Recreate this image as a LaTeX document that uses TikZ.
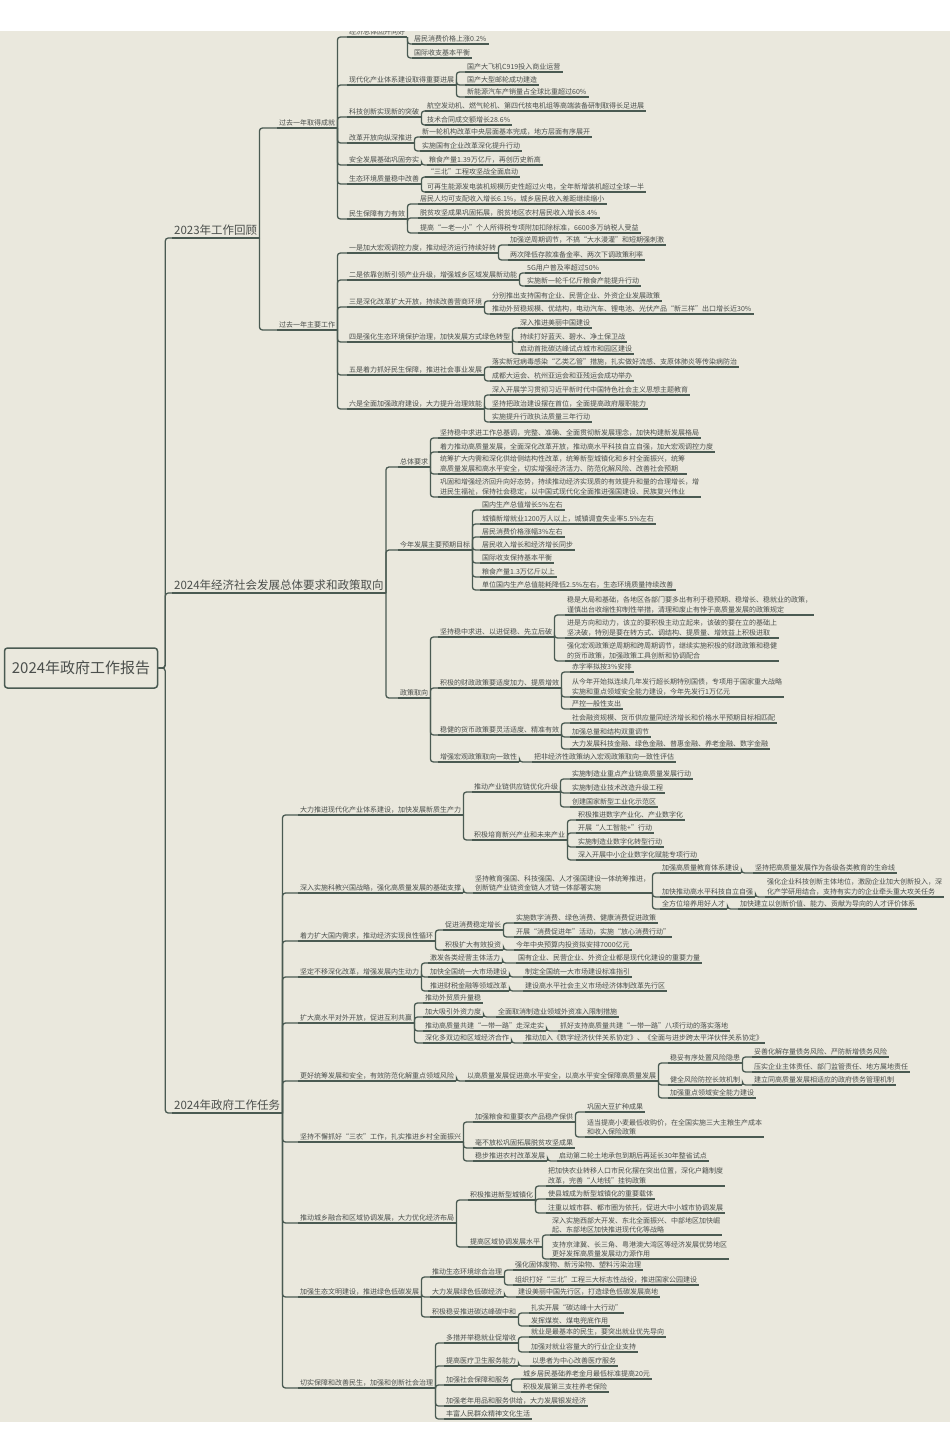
\documentclass[tikz,border=0pt]{standalone}
\usepackage{fontspec}
\setmainfont{Noto Sans CJK SC}
\usetikzlibrary{positioning}
\definecolor{paper}{HTML}{EAE8DD}
\definecolor{ink}{HTML}{4B4F4C}
\definecolor{wire}{HTML}{4A5A52}

\begin{document}
\begin{tikzpicture}[x=1pt,y=-1pt,
		every node/.style={text=ink},
		ul/.style={draw=wire,line width=1.3pt},
		lf/.style={% underlined topic text
			anchor=south west,inner xsep=2pt,inner ysep=1.6pt,align=left,
			font=\fontsize{7}{9.6}\selectfont,
			append after command={(\tikzlastnode.south west) edge[ul] (\tikzlastnode.south east)}},
		top/.style={lf,font=\fontsize{11.5}{13}\selectfont,inner ysep=2.5pt},
		root/.style={draw=wire,line width=1.5pt,rounded corners=3pt,fill=paper,
			minimum width=153pt,minimum height=40pt,font=\fontsize{15}{17}\selectfont},
		cn/.style={draw=wire,line width=1.3pt,rounded corners=3pt}
	]
	\useasboundingbox (0,0) rectangle (950,1440);
	\fill[paper] (0,31) rectangle (950,1422);
	\begin{scope}
	\clip (0,31) rectangle (950,1422);
	\node[root] (root) at (81,668) {2024年政府工作报告};
	\node[top] (r23) at (172,238) {2023年工作回顾};
	\node[top] (r24) at (172,593) {2024年经济社会发展总体要求和政策取向};
	\node[top] (rt) at (172,1113) {2024年政府工作任务};
	\foreach \c in {r23,r24,rt}
		\draw[cn] (root.east) -- ++(7,0) |- (\c.south west);

	% past year results
	\node[lf] (a) at (277,128) {过去一年取得成就};
	\node[lf] (a0) at (347,37) {经济总体回升向好};
	\node[lf] (a01) at (412,44) {居民消费价格上涨0.2\%};
	\node[lf] (a02) at (412,58) {国际收支基本平衡};
	\node[lf] (a1) at (347,85) {现代化产业体系建设取得重要进展};
	\node[lf] (a11) at (465,72) {国产大飞机C919投入商业运营};
	\node[lf] (a12) at (465,85) {国产大型邮轮成功建造};
	\node[lf] (a13) at (465,97) {新能源汽车产销量占全球比重超过60\%};
	\node[lf] (a2) at (347,117) {科技创新实现新的突破};
	\node[lf] (a21) at (425,111) {航空发动机、燃气轮机、第四代核电机组等高端装备研制取得长足进展};
	\node[lf] (a22) at (425,125) {技术合同成交额增长28.6\%};
	\node[lf] (a3) at (347,143) {改革开放向纵深推进};
	\node[lf] (a31) at (420,137) {新一轮机构改革中央层面基本完成，地方层面有序展开};
	\node[lf] (a32) at (420,151) {实施国有企业改革深化提升行动};
	\node[lf] (a4) at (347,165) {安全发展基础巩固夯实};
	\node[lf] (a41) at (427,165) {粮食产量1.39万亿斤，再创历史新高};
	\node[lf] (a5) at (347,184) {生态环境质量稳中改善};
	\node[lf] (a51) at (425,177) {“三北”工程攻坚战全面启动};
	\node[lf] (a52) at (425,192) {可再生能源发电装机规模历史性超过火电，全年新增装机超过全球一半};
	\node[lf] (a6) at (347,219) {民生保障有力有效};
	\node[lf] (a61) at (418,204) {居民人均可支配收入增长6.1\%，城乡居民收入差距继续缩小};
	\node[lf] (a62) at (418,218) {脱贫攻坚成果巩固拓展，脱贫地区农村居民收入增长8.4\%};
	\node[lf] (a63) at (418,233) {提高“一老一小”个人所得税专项附加扣除标准，6600多万纳税人受益};

	% past year work
	\node[lf] (b) at (277,330) {过去一年主要工作};
	\node[lf] (b1) at (347,253) {一是加大宏观调控力度，推动经济运行持续好转};
	\node[lf] (b11) at (508,245) {加强逆周期调节，不搞“大水漫灌”和短期强刺激};
	\node[lf] (b12) at (508,260) {两次降低存款准备金率、两次下调政策利率};
	\node[lf] (b2) at (347,280) {二是依靠创新引领产业升级，增强城乡区域发展新动能};
	\node[lf] (b21) at (525,273) {5G用户普及率超过50\%};
	\node[lf] (b22) at (525,286) {实施新一轮千亿斤粮食产能提升行动};
	\node[lf] (b3) at (347,307) {三是深化改革扩大开放，持续改善营商环境};
	\node[lf] (b31) at (490,301) {分别推出支持国有企业、民营企业、外资企业发展政策};
	\node[lf] (b32) at (490,314) {推动外贸稳规模、优结构，电动汽车、锂电池、光伏产品“新三样”出口增长近30\%};
	\node[lf] (b4) at (347,342) {四是强化生态环境保护治理，加快发展方式绿色转型};
	\node[lf] (b41) at (518,328) {深入推进美丽中国建设};
	\node[lf] (b42) at (518,342) {持续打好蓝天、碧水、净土保卫战};
	\node[lf] (b43) at (518,354) {启动首批碳达峰试点城市和园区建设};
	\node[lf] (b5) at (347,375) {五是着力抓好民生保障，推进社会事业发展};
	\node[lf] (b51) at (490,367) {落实新冠病毒感染“乙类乙管”措施，扎实做好流感、支原体肺炎等传染病防治};
	\node[lf] (b52) at (490,381) {成都大运会、杭州亚运会和亚残运会成功举办};
	\node[lf] (b6) at (347,409) {六是全面加强政府建设，大力提升治理效能};
	\node[lf] (b61) at (490,395) {深入开展学习贯彻习近平新时代中国特色社会主义思想主题教育};
	\node[lf] (b62) at (490,409) {坚持把政治建设摆在首位，全面提高政府履职能力};
	\node[lf] (b63) at (490,422) {实施提升行政执法质量三年行动};

	% general requirements
	\node[lf] (c) at (398,467) {总体要求};
	\node[lf] (c1) at (438,438) {坚持稳中求进工作总基调，完整、准确、全面贯彻新发展理念，加快构建新发展格局};
	\node[lf] (c2) at (438,452) {着力推动高质量发展，全面深化改革开放，推动高水平科技自立自强，加大宏观调控力度};
	\node[lf] (c3) at (438,474) {统筹扩大内需和深化供给侧结构性改革，统筹新型城镇化和乡村全面振兴，统筹\\高质量发展和高水平安全，切实增强经济活力、防范化解风险、改善社会预期};
	\node[lf] (c4) at (438,497) {巩固和增强经济回升向好态势，持续推动经济实现质的有效提升和量的合理增长，增\\进民生福祉，保持社会稳定，以中国式现代化全面推进强国建设、民族复兴伟业};
	\node[lf] (d) at (398,550) {今年发展主要预期目标};
	\node[lf] (d1) at (480,510) {国内生产总值增长5\%左右};
	\node[lf] (d2) at (480,524) {城镇新增就业1200万人以上，城镇调查失业率5.5\%左右};
	\node[lf] (d3) at (480,537) {居民消费价格涨幅3\%左右};
	\node[lf] (d4) at (480,550) {居民收入增长和经济增长同步};
	\node[lf] (d5) at (480,563) {国际收支保持基本平衡};
	\node[lf] (d6) at (480,577) {粮食产量1.3万亿斤以上};
	\node[lf] (d7) at (480,590) {单位国内生产总值能耗降低2.5\%左右，生态环境质量持续改善};
	\node[lf] (e) at (398,698) {政策取向};
	\node[lf] (e1) at (438,637) {坚持稳中求进、以进促稳、先立后破};
	\node[lf] (e11) at (565,615) {稳是大局和基础，各地区各部门要多出有利于稳预期、稳增长、稳就业的政策，\\谨慎出台收缩性抑制性举措，清理和废止有悖于高质量发展的政策规定};
	\node[lf] (e12) at (565,638) {进是方向和动力，该立的要积极主动立起来，该破的要在立的基础上\\坚决破，特别是要在转方式、调结构、提质量、增效益上积极进取};
	\node[lf] (e13) at (565,661) {强化宏观政策逆周期和跨周期调节，继续实施积极的财政政策和稳健\\的货币政策，加强政策工具创新和协调配合};
	\node[lf] (e2) at (438,688) {积极的财政政策要适度加力、提质增效};
	\node[lf] (e21) at (570,672) {赤字率拟按3\%安排};
	\node[lf] (e22) at (570,697) {从今年开始拟连续几年发行超长期特别国债，专项用于国家重大战略\\实施和重点领域安全能力建设，今年先发行1万亿元};
	\node[lf] (e23) at (570,709) {严控一般性支出};
	\node[lf] (e3) at (438,735) {稳健的货币政策要灵活适度、精准有效};
	\node[lf] (e31) at (570,723) {社会融资规模、货币供应量同经济增长和价格水平预期目标相匹配};
	\node[lf] (e32) at (570,737) {加强总量和结构双重调节};
	\node[lf] (e33) at (570,749) {大力发展科技金融、绿色金融、普惠金融、养老金融、数字金融};
	\node[lf] (e4) at (438,762) {增强宏观政策取向一致性};
	\node[lf] (e41) at (532,762) {把非经济性政策纳入宏观政策取向一致性评估};

	% tasks
	\node[lf] (f) at (298,815) {大力推进现代化产业体系建设，加快发展新质生产力};
	\node[lf] (f1) at (472,792) {推动产业链供应链优化升级};
	\node[lf] (f11) at (570,779) {实施制造业重点产业链高质量发展行动};
	\node[lf] (f12) at (570,793) {实施制造业技术改造升级工程};
	\node[lf] (f13) at (570,807) {创建国家新型工业化示范区};
	\node[lf] (f2) at (472,840) {积极培育新兴产业和未来产业};
	\node[lf] (f21) at (576,820) {积极推进数字产业化、产业数字化};
	\node[lf] (f22) at (576,833) {开展“人工智能+”行动};
	\node[lf] (f23) at (576,847) {实施制造业数字化转型行动};
	\node[lf] (f24) at (576,860) {深入开展中小企业数字化赋能专项行动};
	\node[lf] (g) at (298,893) {深入实施科教兴国战略，强化高质量发展的基础支撑};
	\node[lf] (g0) at (473,893) {坚持教育强国、科技强国、人才强国建设一体统筹推进，\\创新链产业链资金链人才链一体部署实施};
	\node[lf] (g1) at (660,873) {加强高质量教育体系建设};
	\node[lf] (g11) at (753,873) {坚持把高质量发展作为各级各类教育的生命线};
	\node[lf] (g2) at (660,897) {加快推动高水平科技自立自强};
	\node[lf] (g21) at (765,897) {强化企业科技创新主体地位，激励企业加大创新投入，深\\化产学研用结合，支持有实力的企业牵头重大攻关任务};
	\node[lf] (g3) at (660,909) {全方位培养用好人才};
	\node[lf] (g31) at (738,909) {加快建立以创新价值、能力、贡献为导向的人才评价体系};
	\node[lf] (h) at (298,941) {着力扩大国内需求，推动经济实现良性循环};
	\node[lf] (h1) at (443,930) {促进消费稳定增长};
	\node[lf] (h11) at (514,923) {实施数字消费、绿色消费、健康消费促进政策};
	\node[lf] (h12) at (514,937) {开展“消费促进年”活动，实施“放心消费行动”};
	\node[lf] (h2) at (443,950) {积极扩大有效投资};
	\node[lf] (h21) at (514,950) {今年中央预算内投资拟安排7000亿元};
	\node[lf] (i) at (298,977) {坚定不移深化改革，增强发展内生动力};
	\node[lf] (i1) at (428,963) {激发各类经营主体活力};
	\node[lf] (i11) at (516,963) {国有企业、民营企业、外资企业都是现代化建设的重要力量};
	\node[lf] (i2) at (428,977) {加快全国统一大市场建设};
	\node[lf] (i21) at (523,977) {制定全国统一大市场建设标准指引};
	\node[lf] (i3) at (428,991) {推进财税金融等领域改革};
	\node[lf] (i31) at (523,991) {建设高水平社会主义市场经济体制改革先行区};
	\node[lf] (j) at (298,1023) {扩大高水平对外开放，促进互利共赢};
	\node[lf] (j1) at (423,1003) {推动外贸质升量稳};
	\node[lf] (j2) at (423,1017) {加大吸引外资力度};
	\node[lf] (j21) at (496,1017) {全面取消制造业领域外资准入限制措施};
	\node[lf] (j3) at (423,1031) {推动高质量共建“一带一路”走深走实};
	\node[lf] (j31) at (558,1031) {抓好支持高质量共建“一带一路”八项行动的落实落地};
	\node[lf] (j4) at (423,1043) {深化多双边和区域经济合作};
	\node[lf] (j41) at (523,1043) {推动加入《数字经济伙伴关系协定》、《全面与进步跨太平洋伙伴关系协定》};
	\node[lf] (k) at (298,1081) {更好统筹发展和安全，有效防范化解重点领域风险};
	\node[lf] (k0) at (465,1081) {以高质量发展促进高水平安全，以高水平安全保障高质量发展};
	\node[lf] (k1) at (668,1063) {稳妥有序处置风险隐患};
	\node[lf] (k11) at (752,1057) {妥善化解存量债务风险、严防新增债务风险};
	\node[lf] (k12) at (752,1072) {压实企业主体责任、部门监管责任、地方属地责任};
	\node[lf] (k2) at (668,1085) {健全风险防控长效机制};
	\node[lf] (k21) at (752,1085) {建立同高质量发展相适应的政府债务管理机制};
	\node[lf] (k3) at (668,1098) {加强重点领域安全能力建设};
	\node[lf] (l) at (298,1142) {坚持不懈抓好“三农”工作，扎实推进乡村全面振兴};
	\node[lf] (l1) at (473,1122) {加强粮食和重要农产品稳产保供};
	\node[lf] (l11) at (585,1112) {巩固大豆扩种成果};
	\node[lf] (l12) at (585,1137) {适当提高小麦最低收购价，在全国实施三大主粮生产成本\\和收入保险政策};
	\node[lf] (l2) at (473,1148) {毫不放松巩固拓展脱贫攻坚成果};
	\node[lf] (l3) at (473,1161) {稳步推进农村改革发展};
	\node[lf] (l31) at (557,1161) {启动第二轮土地承包到期后再延长30年整省试点};
	\node[lf] (m) at (298,1223) {推动城乡融合和区域协调发展，大力优化经济布局};
	\node[lf] (m1) at (468,1200) {积极推进新型城镇化};
	\node[lf] (m11) at (546,1186) {把加快农业转移人口市民化摆在突出位置，深化户籍制度\\改革，完善“人地钱”挂钩政策};
	\node[lf] (m12) at (546,1199) {使县城成为新型城镇化的重要载体};
	\node[lf] (m13) at (546,1213) {注重以城市群、都市圈为依托，促进大中小城市协调发展};
	\node[lf] (m2) at (468,1247) {提高区域协调发展水平};
	\node[lf] (m21) at (550,1235) {深入实施西部大开发、东北全面振兴、中部地区加快崛\\起、东部地区加快推进现代化等战略};
	\node[lf] (m22) at (550,1259) {支持京津冀、长三角、粤港澳大湾区等经济发展优势地区\\更好发挥高质量发展动力源作用};
	\node[lf] (n) at (298,1297) {加强生态文明建设，推进绿色低碳发展};
	\node[lf] (n1) at (430,1277) {推动生态环境综合治理};
	\node[lf] (n11) at (513,1270) {强化固体废物、新污染物、塑料污染治理};
	\node[lf] (n12) at (513,1285) {组织打好“三北”工程三大标志性战役，推进国家公园建设};
	\node[lf] (n2) at (430,1297) {大力发展绿色低碳经济};
	\node[lf] (n21) at (516,1297) {建设美丽中国先行区，打造绿色低碳发展高地};
	\node[lf] (n3) at (430,1317) {积极稳妥推进碳达峰碳中和};
	\node[lf] (n31) at (529,1313) {扎实开展“碳达峰十大行动”};
	\node[lf] (n32) at (529,1326) {发挥煤炭、煤电兜底作用};
	\node[lf] (o) at (298,1388) {切实保障和改善民生，加强和创新社会治理};
	\node[lf] (o1) at (444,1343) {多措并举稳就业促增收};
	\node[lf] (o11) at (529,1337) {就业是最基本的民生，要突出就业优先导向};
	\node[lf] (o12) at (529,1352) {加强对就业容量大的行业企业支持};
	\node[lf] (o2) at (444,1366) {提高医疗卫生服务能力};
	\node[lf] (o21) at (530,1366) {以患者为中心改善医疗服务};
	\node[lf] (o3) at (444,1385) {加强社会保障和服务};
	\node[lf] (o31) at (521,1379) {城乡居民基础养老金月最低标准提高20元};
	\node[lf] (o32) at (521,1392) {积极发展第三支柱养老保险};
	\node[lf] (o4) at (444,1406) {加强老年用品和服务供给，大力发展银发经济};
	\node[lf] (o5) at (444,1419) {丰富人民群众精神文化生活};

	\foreach \p/\c in {r23/a,r23/b,a/a0,a0/a01,a0/a02,a/a1,a1/a11,a1/a12,a1/a13,a/a2,a2/a21,a2/a22,
		a/a3,a3/a31,a3/a32,a/a4,a4/a41,a/a5,a5/a51,a5/a52,a/a6,a6/a61,a6/a62,a6/a63,
		b/b1,b1/b11,b1/b12,b/b2,b2/b21,b2/b22,b/b3,b3/b31,b3/b32,b/b4,b4/b41,b4/b42,b4/b43,
		b/b5,b5/b51,b5/b52,b/b6,b6/b61,b6/b62,b6/b63,
		r24/c,c/c1,c/c2,c/c3,c/c4,r24/d,d/d1,d/d2,d/d3,d/d4,d/d5,d/d6,d/d7,
		r24/e,e/e1,e1/e11,e1/e12,e1/e13,e/e2,e2/e21,e2/e22,e2/e23,e/e3,e3/e31,e3/e32,e3/e33,e/e4,e4/e41,
		rt/f,f/f1,f1/f11,f1/f12,f1/f13,f/f2,f2/f21,f2/f22,f2/f23,f2/f24,
		rt/g,g/g0,g0/g1,g1/g11,g0/g2,g2/g21,g0/g3,g3/g31,
		rt/h,h/h1,h1/h11,h1/h12,h/h2,h2/h21,rt/i,i/i1,i1/i11,i/i2,i2/i21,i/i3,i3/i31,
		rt/j,j/j1,j/j2,j2/j21,j/j3,j3/j31,j/j4,j4/j41,
		rt/k,k/k0,k0/k1,k1/k11,k1/k12,k0/k2,k2/k21,k0/k3,
		rt/l,l/l1,l1/l11,l1/l12,l/l2,l/l3,l3/l31,
		rt/m,m/m1,m1/m11,m1/m12,m1/m13,m/m2,m2/m21,m2/m22,
		rt/n,n/n1,n1/n11,n1/n12,n/n2,n2/n21,n/n3,n3/n31,n3/n32,
		rt/o,o/o1,o1/o11,o1/o12,o/o2,o2/o21,o/o3,o3/o31,o3/o32,o/o4,o/o5}
		\draw[cn] (\p.south east) |- (\c.south west);
	\end{scope}
\end{tikzpicture}
\end{document}
